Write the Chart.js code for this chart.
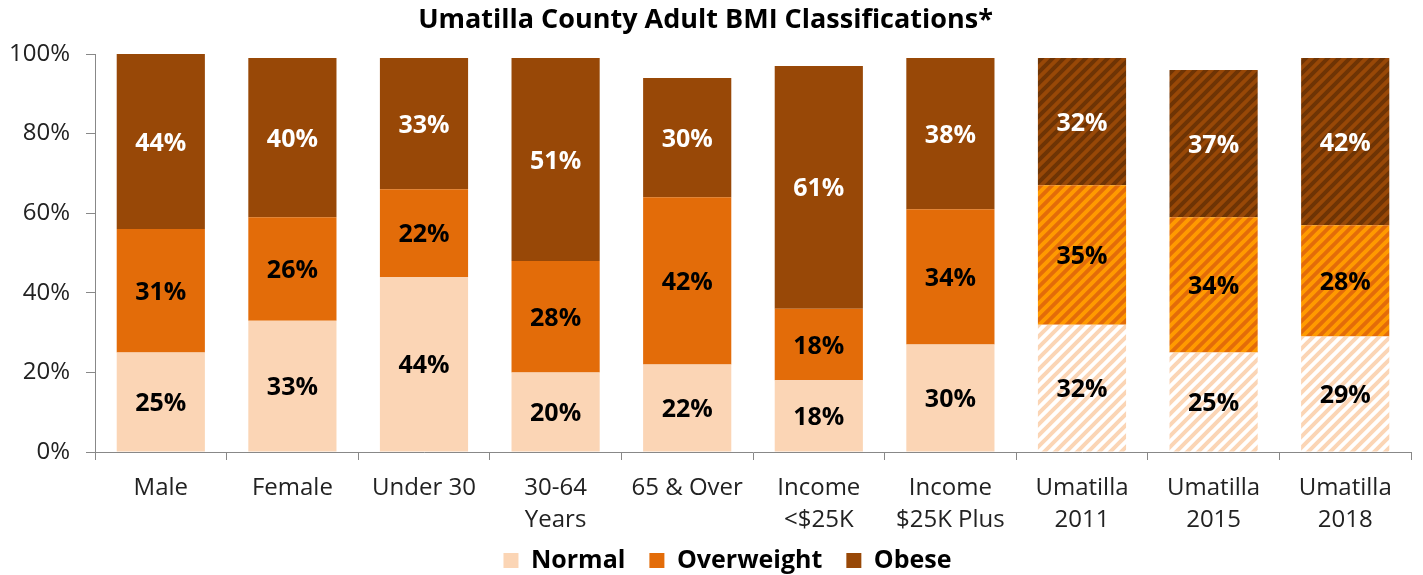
<!DOCTYPE html>
<html>
<head>
<meta charset="utf-8">
<script src="https://cdn.jsdelivr.net/npm/chart.js@4"></script>
<style>
  html, body { margin: 0; padding: 0; background: #fff; }
  #wrap { width: 1423px; height: 575px; }
</style>
</head>
<body>
<div id="wrap"><canvas id="bmiChart" width="1423" height="575"></canvas></div>
<script>
const categories = [
  "Male", "Female", "Under 30", ["30-64", "Years"], "65 & Over",
  ["Income", "<$25K"], ["Income", "$25K Plus"],
  ["Umatilla", "2011"], ["Umatilla", "2015"], ["Umatilla", "2018"],
];
// bar heights as drawn
const normal = [25, 33, 44, 20, 22, 18, 27, 32, 25, 29];
const overweight = [31, 26, 22, 28, 42, 18, 34, 35, 34, 28];
const obese = [44, 40, 33, 51, 30, 61, 38, 32, 37, 42];
// printed labels (one differs from drawn height in the source)
const normalLabels = [25, 33, 44, 20, 22, 18, 30, 32, 25, 29];
const overweightLabels = [31, 26, 22, 28, 42, 18, 34, 35, 34, 28];
const obeseLabels = [44, 40, 33, 51, 30, 61, 38, 32, 37, 42];
const hatchedFrom = 7;

const FONT = "'Open Sans', 'Noto Sans', sans-serif";

function stripes(base, line) {
  const s = 11;
  const c = document.createElement("canvas");
  c.width = s;
  c.height = s;
  const g = c.getContext("2d");
  g.fillStyle = base;
  g.fillRect(0, 0, s, s);
  g.strokeStyle = line;
  g.lineWidth = 4;
  g.beginPath();
  g.moveTo(-2, s + 2); g.lineTo(s + 2, -2);
  g.moveTo(-2, 2); g.lineTo(2, -2);
  g.moveTo(s - 2, s + 2); g.lineTo(s + 2, s - 2);
  g.stroke();
  return g.createPattern(c, "repeat");
}

function fills(solid, pattern) {
  return categories.map((_, i) => (i >= hatchedFrom ? pattern : solid));
}

const labelPlugin = {
  id: "segLabels",
  afterLayout(chart) {
    // let the two-line category labels run past the squeezed x-axis box
    chart.scales.x.bottom = chart.height;
    // legend sits a bit right of centre in the original
    chart.legend.left += 22;
    chart.legend.right += 22;
  },
  afterDatasetsDraw(chart) {
    const ctx = chart.ctx;
    ctx.save();
    ctx.font = "bold 25px " + FONT;
    ctx.textAlign = "center";
    ctx.textBaseline = "middle";
    chart.data.datasets.forEach((ds, di) => {
      const meta = chart.getDatasetMeta(di);
      meta.data.forEach((bar, i) => {
        const mid = (bar.y + bar.base) / 2;
        ctx.fillStyle = ds.labelColor;
        ctx.fillText(ds.printed[i] + "%", bar.x, mid + 2);
      });
    });
    ctx.restore();
  },
};

const ctx = document.getElementById("bmiChart").getContext("2d");
const bmiChart = new Chart(ctx, {
  type: "bar",
  plugins: [labelPlugin],
  data: {
    labels: categories,
    datasets: [
      {
        label: "Normal",
        data: normal,
        printed: normalLabels,
        labelColor: "#000",
        backgroundColor: fills("#FBD5B5", stripes("#FFFFFF", "#FBD5B5")),
      },
      {
        label: "Overweight",
        data: overweight,
        printed: overweightLabels,
        labelColor: "#000",
        backgroundColor: fills("#E36C09", stripes("#E36C09", "#FF9A00")),
      },
      {
        label: "Obese",
        data: obese,
        printed: obeseLabels,
        labelColor: "#fff",
        backgroundColor: fills("#984807", stripes("#984807", "#6E3405")),
      },
    ],
  },
  options: {
    responsive: false,
    animation: false,
    layout: { padding: { left: 0, right: 12, top: 0, bottom: -8 } },
    datasets: { bar: { categoryPercentage: 1, barPercentage: 0.67, borderWidth: 0 } },
    plugins: {
      title: {
        display: true,
        text: "Umatilla County Adult BMI Classifications*",
        color: "#000",
        font: { family: FONT, size: 27, weight: "bold" },
        padding: { top: 4, bottom: 17.6 },
      },
      legend: {
        position: "bottom",
        labels: {
          color: "#000",
          boxWidth: 15,
          boxHeight: 15,
          padding: 24,
          font: { family: FONT, size: 25, weight: "bold" },
          generateLabels(chart) {
            return chart.data.datasets.map((ds, i) => ({
              text: ds.label,
              fillStyle: ds.backgroundColor[0],
              strokeStyle: ds.backgroundColor[0],
              lineWidth: 0,
              datasetIndex: i,
            }));
          },
        },
      },
      tooltip: { enabled: false },
    },
    scales: {
      x: {
        stacked: true,
        afterFit(scale) { scale.height = 72; },
        grid: { offset: true, drawOnChartArea: false, tickLength: 8, color: "#888" },
        border: { color: "#888" },
        ticks: { color: "#222", padding: 13, font: { family: FONT, size: 24, lineHeight: 1.3 } },
      },
      y: {
        stacked: true,
        min: 0,
        max: 100,
        afterFit(scale) { scale.width = 95; },
        grid: { drawOnChartArea: false, tickLength: 9, color: "#888" },
        border: { color: "#888" },
        ticks: {
          stepSize: 20,
          color: "#222",
          padding: 16,
          font: { family: FONT, size: 24 },
          callback: (v) => v + "%",
        },
      },
    },
  },
});
</script>
</body>
</html>
